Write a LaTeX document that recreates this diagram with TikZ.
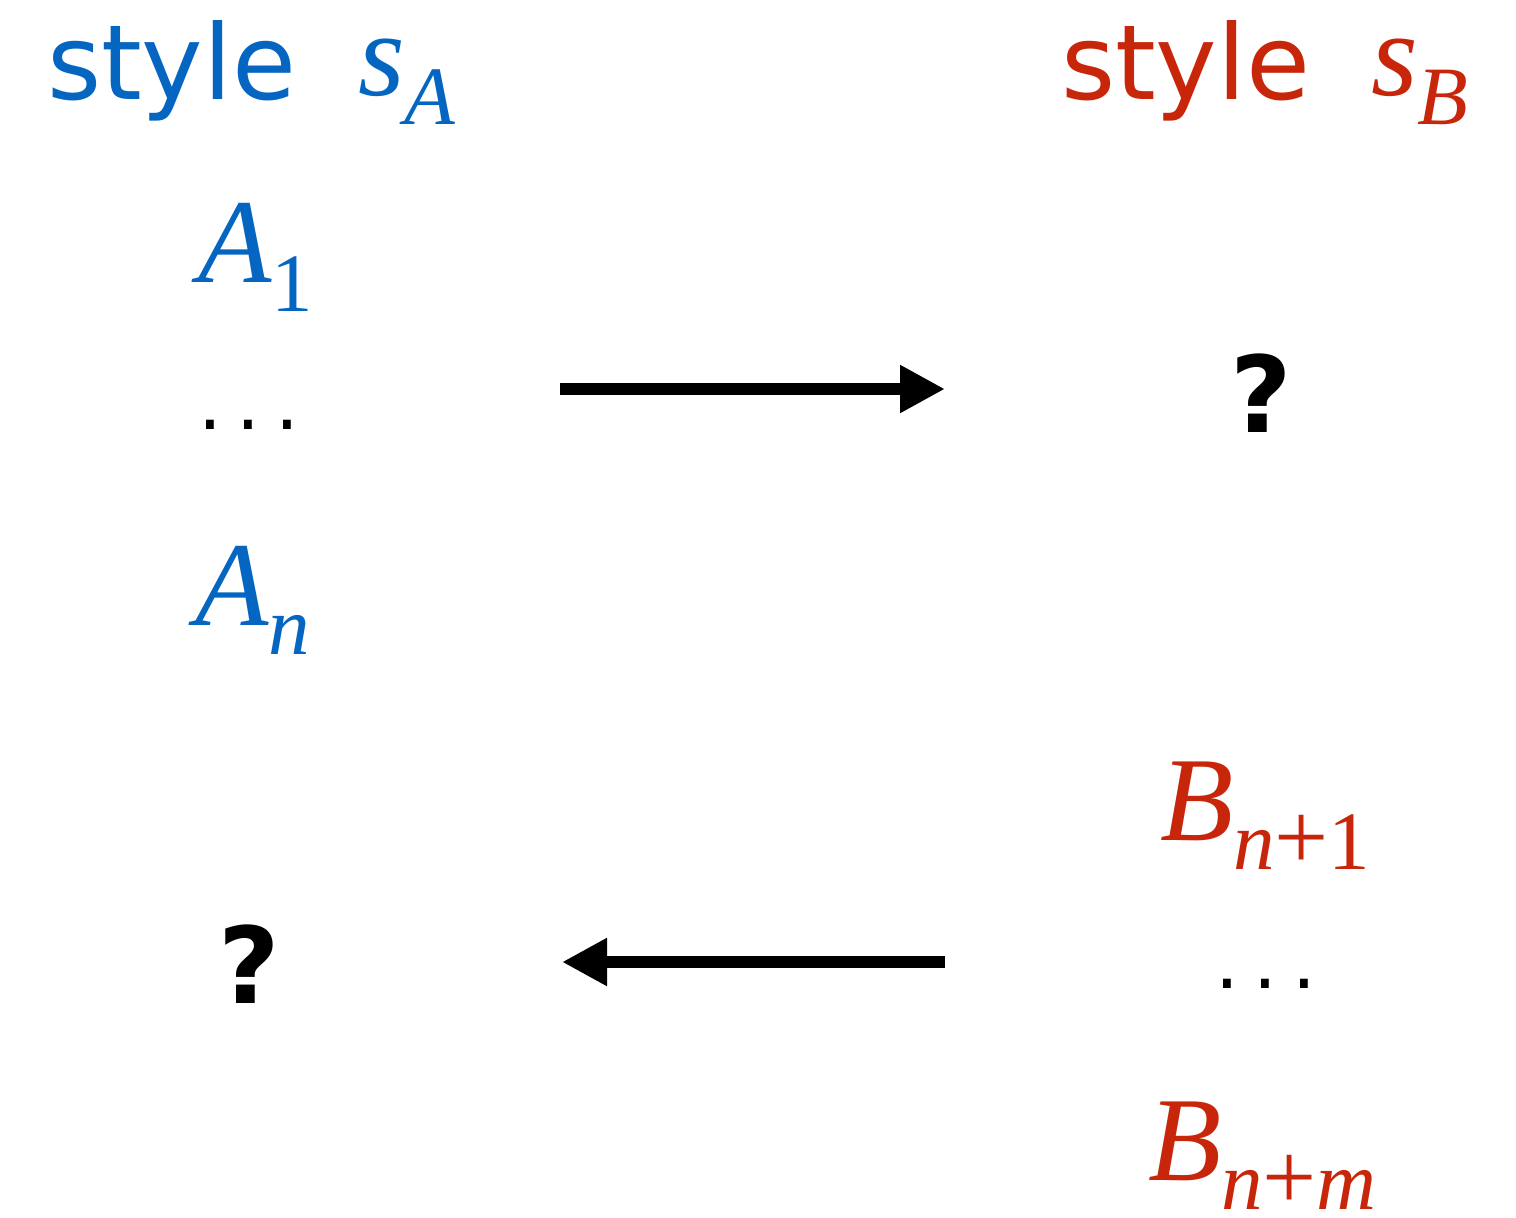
\documentclass[tikz,border=0pt]{standalone}
\usepackage{fontspec}
\setmainfont{Liberation Serif}
\newfontfamily\dejavu{DejaVu Sans}
\usetikzlibrary{arrows.meta}
\definecolor{sblue}{RGB}{5,102,193}
\definecolor{sred}{RGB}{200,38,10}
\newcommand\bigit[1]{{\fontsize{60}{60}\selectfont\itshape #1}}
\newcommand\subtx[1]{\raisebox{-14.5pt}{\fontsize{41.5}{41.5}\selectfont #1}}
\newcommand\ssym[2]{\bigit{#1}\subtx{#2}}
\newcommand\bplus{{\upshape\fontsize{48}{48}\selectfont +}}
\begin{document}
\begin{tikzpicture}[x=0.5pt,y=-0.5pt,
  txt/.style={inner sep=0pt,outer sep=0pt,anchor=base west},
  stylelbl/.style={txt,font=\dejavu\fontsize{52}{52}\selectfont},
  qmark/.style={txt,font=\dejavu\bfseries\fontsize{53}{53}\selectfont},
  dotsn/.style={txt,font=\dejavu\fontsize{37.5}{37.5}\selectfont},
  arr/.style={line width=6pt,-{Triangle[length=22.5pt,width=22.5pt]}}]
\useasboundingbox (0,0) rectangle (1516,1217);
% headers
\node[stylelbl,text=sblue] (styleA) at (47,99) {style};
\node[txt,text=sblue] (sA) at (358,95) {\ssym{s}{\itshape A}};
\node[stylelbl,text=sred] (styleB) at (1061,99) {style};
\node[txt,text=sred] (sB) at (1371,95) {\ssym{s}{\itshape B}};
% left column
\node[txt,text=sblue] (A1) at (198,282) {\ssym{A}{1}};
\node[dotsn] (dotsA) at (198,429) {.\hspace{7.5pt}.\hspace{7.5pt}.};
\node[txt,text=sblue] (An) at (195,625) {\ssym{A}{\itshape n}};
\node[qmark] (qA) at (218,1003) {?};
% right column
\node[qmark] (qB) at (1230,432) {?};
\node[txt,text=sred] (Bn1) at (1160,840) {\ssym{B}{{\itshape n}\bplus 1}};
\node[dotsn] (dotsB) at (1215,988) {.\hspace{7.5pt}.\hspace{7.5pt}.};
\node[txt,text=sred] (Bnm) at (1148,1180) {\ssym{B}{{\itshape n}\bplus{\itshape m}}};
% arrows
\coordinate (r1) at (560,389);
\coordinate (r2) at (945,389);
\coordinate (l1) at (945,962);
\coordinate (l2) at (562,962);
\draw[arr] (r1) -- (r2);
\draw[arr] (l1) -- (l2);
\end{tikzpicture}
\end{document}
